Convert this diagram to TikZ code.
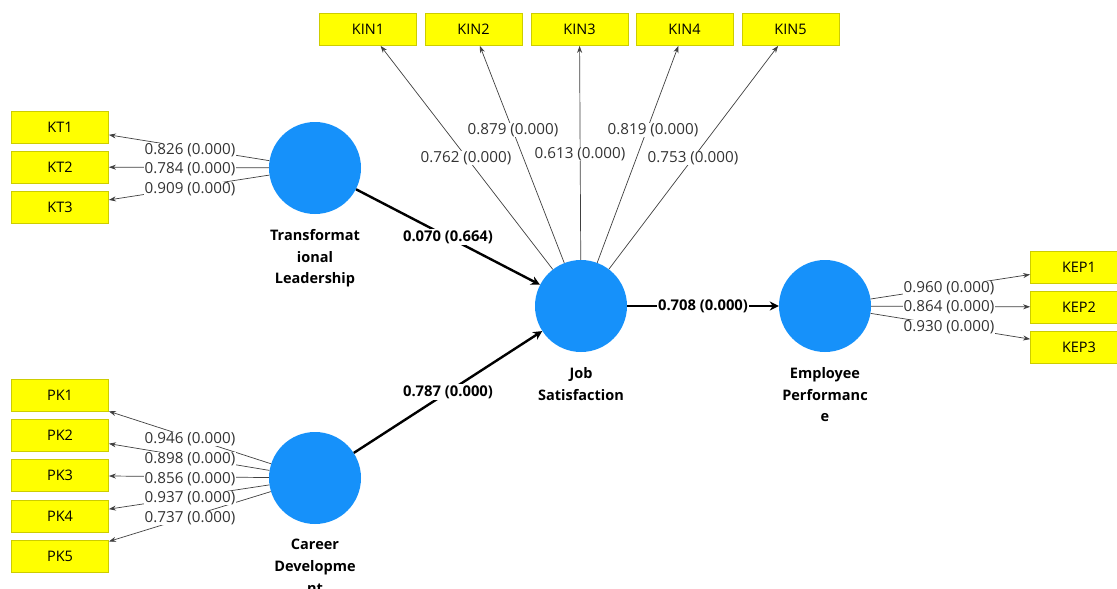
\documentclass[tikz,border=0pt]{standalone}
\usepackage{fontspec}
\setmainfont{Open Sans}
\usetikzlibrary{arrows.meta}
\definecolor{lvblue}{RGB}{22,145,250}
\definecolor{mvyellow}{RGB}{255,255,0}
\definecolor{mvborder}{RGB}{205,205,0}
\begin{document}
\begin{tikzpicture}[x=1pt,y=-1pt,
 mv/.style={draw=mvborder, fill=mvyellow, line width=0.8pt, minimum width=97pt, minimum height=32pt, inner sep=0pt, font=\fontsize{14.5}{16}\selectfont},
 lv/.style={circle, fill=lvblue, minimum size=92pt, inner sep=0pt},
 lvlabel/.style={font=\bfseries\fontsize{14.5}{21.8}\selectfont, align=center, anchor=north, inner sep=0pt},
 load/.style={draw=black!75, line width=0.7pt, -{Stealth[length=7pt,width=5pt]}},
 struct/.style={draw=black, line width=2.4pt, -{Stealth[length=9pt,width=9pt]}},
 ldlabel/.style={fill=white, inner sep=0.6pt, font=\fontsize{15.2}{16}\selectfont, text=black!80},
 pclabel/.style={fill=white, inner sep=1pt, font=\bfseries\fontsize{14.8}{16}\selectfont}]
\useasboundingbox (0,0) rectangle (1117,589);
\clip (0,0) rectangle (1117,589);
\fill[white] (0,0) rectangle (1117,589);
% indicator boxes
\node[mv] (KT1) at (60,127) {KT1};
\node[mv] (KT2) at (60,167) {KT2};
\node[mv] (KT3) at (60,207.5) {KT3};
\node[mv] (PK1) at (60,395.5) {PK1};
\node[mv] (PK2) at (60,435.5) {PK2};
\node[mv] (PK3) at (60,475.5) {PK3};
\node[mv] (PK4) at (60,516.5) {PK4};
\node[mv] (PK5) at (60,556.5) {PK5};
\node[mv] (KIN1) at (368,29.5) {KIN1};
\node[mv] (KIN2) at (473.5,29.5) {KIN2};
\node[mv] (KIN3) at (579.5,29.5) {KIN3};
\node[mv] (KIN4) at (684.5,29.5) {KIN4};
\node[mv] (KIN5) at (790.5,29.5) {KIN5};
\node[mv] (KEP1) at (1079,267) {KEP1};
\node[mv] (KEP2) at (1079,307) {KEP2};
\node[mv] (KEP3) at (1079,347) {KEP3};
% latent variables
\node[lv] (TL) at (315,168) {};
\node[lv] (CD) at (315,478) {};
\node[lv] (JS) at (581,306) {};
\node[lv] (EP) at (825,306) {};
\node[lvlabel] (TLl) at (315,229) {Transformat\\ional\\Leadership};
\node[lvlabel] (CDl) at (315,539) {Career\\Developme\\nt};
\node[lvlabel] (JSl) at (581,367) {Job\\Satisfaction};
\node[lvlabel] (EPl) at (825,367) {Employee\\Performanc\\e};
% loadings
\foreach \b in {KT1,KT2,KT3} \draw[load] (TL) -- (\b);
\foreach \b in {PK1,PK2,PK3,PK4,PK5} \draw[load] (CD) -- (\b);
\foreach \b in {KIN1,KIN2,KIN3,KIN4,KIN5} \draw[load] (JS) -- (\b);
\foreach \b in {KEP1,KEP2,KEP3} \draw[load] (EP) -- (\b);
% structural paths
\draw[struct] (TL) -- node[pclabel] (p1) {0.070 (0.664)} (JS);
\draw[struct] (CD) -- node[pclabel] (p2) {0.787 (0.000)} (JS);
\draw[struct] (JS) -- node[pclabel] (p3) {0.708 (0.000)} (EP);
% loading labels
\node[ldlabel] (l1) at (190,150) {0.826 (0.000)};
\node[ldlabel] (l2) at (190,169) {0.784 (0.000)};
\node[ldlabel] (l3) at (190,189) {0.909 (0.000)};
\node[ldlabel] (l4) at (190,439) {0.946 (0.000)};
\node[ldlabel] (l5) at (190,459) {0.898 (0.000)};
\node[ldlabel] (l6) at (190,479) {0.856 (0.000)};
\node[ldlabel] (l7) at (190,498) {0.937 (0.000)};
\node[ldlabel] (l8) at (190,518) {0.737 (0.000)};
\node[ldlabel] (l9) at (466,158) {0.762 (0.000)};
\node[ldlabel] (l10) at (513,130) {0.879 (0.000)};
\node[ldlabel] (l11) at (580,154) {0.613 (0.000)};
\node[ldlabel] (l12) at (653,130) {0.819 (0.000)};
\node[ldlabel] (l13) at (693,158) {0.753 (0.000)};
\node[ldlabel] (l14) at (949,288) {0.960 (0.000)};
\node[ldlabel] (l15) at (949,307) {0.864 (0.000)};
\node[ldlabel] (l16) at (949,327) {0.930 (0.000)};
\end{tikzpicture}
\end{document}
